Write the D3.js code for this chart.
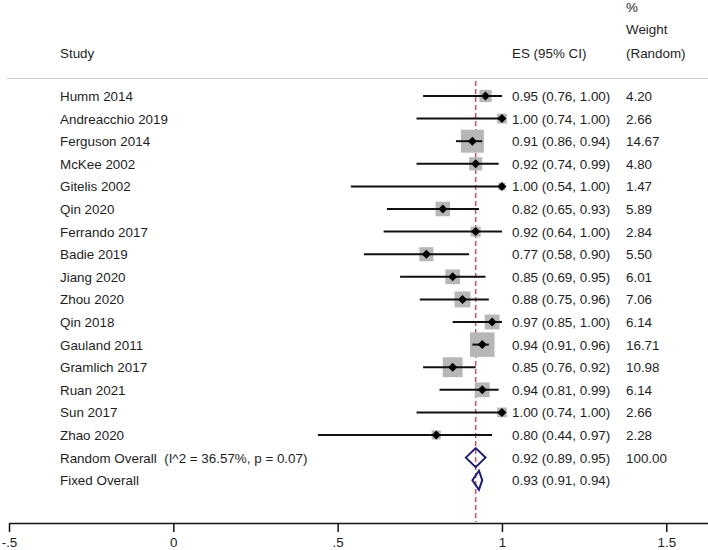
<!DOCTYPE html>
<html>
<head>
<meta charset="utf-8">
<script src="https://cdn.jsdelivr.net/npm/d3@7/dist/d3.min.js"></script>
<style>
  body { margin: 0; background: #fff; }
  text { font-family: "Liberation Sans", Arial, sans-serif; font-size: 13.4px; fill: #1e1e1e; white-space: pre; }
</style>
</head>
<body>
<script>
// study data
var studies = ["Humm 2014", "Andreacchio 2019", "Ferguson 2014", "McKee 2002", "Gitelis 2002",
  "Qin 2020", "Ferrando 2017", "Badie 2019", "Jiang 2020", "Zhou 2020", "Qin 2018",
  "Gauland 2011", "Gramlich 2017", "Ruan 2021", "Sun 2017", "Zhao 2020"];
var es = [0.95, 1.00, 0.91, 0.92, 1.00, 0.82, 0.92, 0.77, 0.85, 0.88, 0.97, 0.94, 0.85, 0.94, 1.00, 0.80];
var lo = [0.76, 0.74, 0.86, 0.74, 0.54, 0.65, 0.64, 0.58, 0.69, 0.75, 0.85, 0.91, 0.76, 0.81, 0.74, 0.44];
var hi = [1.00, 1.00, 0.94, 0.99, 1.00, 0.93, 1.00, 0.90, 0.95, 0.96, 1.00, 0.96, 0.92, 0.99, 1.00, 0.97];
var weights = [4.20, 2.66, 14.67, 4.80, 1.47, 5.89, 2.84, 5.50, 6.01, 7.06, 6.14, 16.71, 10.98, 6.14, 2.66, 2.28];

// pooled estimates
var pooledLabels = ["Random Overall  (I^2 = 36.57%, p = 0.07)", "Fixed Overall"];
var pooledEs = [0.92, 0.93];
var pooledLo = [0.89, 0.91];
var pooledHi = [0.95, 0.94];
var pooledWeight = ["100.00", ""];

var tickValues = [-0.5, 0, 0.5, 1, 1.5];
var tickLabels = ["-.5", "0", ".5", "1", "1.5"];

var width = 708, height = 550;
var svg = d3.select("body").append("svg")
  .attr("width", width)
  .attr("height", height);

var x = d3.scaleLinear().domain([-0.5, 1.63]).range([9, 709]);

var nRows = studies.length + pooledLabels.length;
var y = d3.scaleLinear().domain([0, nRows - 1]).range([96, 96 + 22.6 * (nRows - 1)]);

var fmt = d3.format(".2f");
function ciText(e, l, h) {
  return fmt(e) + " (" + fmt(l) + ", " + fmt(h) + ")";
}

// header
svg.append("text").attr("x", 60).attr("y", 58).text("Study");
svg.append("text").attr("x", 512).attr("y", 58).text("ES (95% CI)");
svg.append("text").attr("x", 626).attr("y", 12).text("%");
svg.append("text").attr("x", 626).attr("y", 34).text("Weight");
svg.append("text").attr("x", 626).attr("y", 58).text("(Random)");

svg.append("line")
  .attr("x1", 7).attr("x2", width)
  .attr("y1", 78.5).attr("y2", 78.5)
  .attr("stroke", "#c8c8c8").attr("stroke-width", 1.2);

// overall effect line
svg.append("line")
  .attr("x1", x(0.92)).attr("x2", x(0.92))
  .attr("y1", 81).attr("y2", 522)
  .attr("stroke", "#bf5560").attr("stroke-width", 1.5)
  .attr("stroke-dasharray", "5,3");

var rows = studies.map(function(s, i) {
  return {name: s, es: es[i], lo: lo[i], hi: hi[i], w: weights[i], i: i};
});

var g = svg.append("g");

// weight boxes
g.selectAll("rect.box")
  .data(rows)
  .enter().append("rect")
  .attr("class", "box")
  .attr("x", function(d) { return x(d.es) - 3 * Math.sqrt(d.w); })
  .attr("y", function(d) { return y(d.i) - 3 * Math.sqrt(d.w); })
  .attr("width", function(d) { return 6 * Math.sqrt(d.w); })
  .attr("height", function(d) { return 6 * Math.sqrt(d.w); })
  .attr("fill", "#b7b7b7");

// confidence intervals
g.selectAll("line.ci")
  .data(rows)
  .enter().append("line")
  .attr("class", "ci")
  .attr("x1", function(d) { return x(d.lo); })
  .attr("x2", function(d) { return x(d.hi); })
  .attr("y1", function(d) { return y(d.i); })
  .attr("y2", function(d) { return y(d.i); })
  .attr("stroke", "#111").attr("stroke-width", 2);

// point estimates
g.selectAll("path.pt")
  .data(rows)
  .enter().append("path")
  .attr("class", "pt")
  .attr("transform", function(d) { return "translate(" + x(d.es) + "," + y(d.i) + ")"; })
  .attr("d", "M-4.5,0L0,-4.5L4.5,0L0,4.5Z")
  .attr("fill", "#000");

g.selectAll("text.name")
  .data(rows)
  .enter().append("text")
  .attr("x", 60)
  .attr("y", function(d) { return y(d.i) + 5; })
  .text(function(d) { return d.name; });

g.selectAll("text.ci")
  .data(rows)
  .enter().append("text")
  .attr("x", 512)
  .attr("y", function(d) { return y(d.i) + 5; })
  .text(function(d) { return ciText(d.es, d.lo, d.hi); });

g.selectAll("text.wt")
  .data(rows)
  .enter().append("text")
  .attr("x", 626)
  .attr("y", function(d) { return y(d.i) + 5; })
  .text(function(d) { return fmt(d.w); });

// pooled rows
var pooled = pooledLabels.map(function(s, j) {
  return {name: s, es: pooledEs[j], lo: pooledLo[j], hi: pooledHi[j], w: pooledWeight[j], i: studies.length + j};
});

g.selectAll("path.diamond")
  .data(pooled)
  .enter().append("path")
  .attr("d", function(d) {
    var cy = y(d.i), h = 9.5;
    return "M" + x(d.lo) + "," + cy + "L" + x(d.es) + "," + (cy - h) +
      "L" + x(d.hi) + "," + cy + "L" + x(d.es) + "," + (cy + h) + "Z";
  })
  .attr("fill", "none")
  .attr("stroke", "#1c1c80").attr("stroke-width", 2);

g.selectAll("text.pname")
  .data(pooled)
  .enter().append("text")
  .attr("x", 60)
  .attr("y", function(d) { return y(d.i) + 5; })
  .text(function(d) { return d.name; });

g.selectAll("text.pci")
  .data(pooled)
  .enter().append("text")
  .attr("x", 512)
  .attr("y", function(d) { return y(d.i) + 5; })
  .text(function(d) { return ciText(d.es, d.lo, d.hi); });

g.selectAll("text.pwt")
  .data(pooled)
  .enter().append("text")
  .attr("x", 626)
  .attr("y", function(d) { return y(d.i) + 5; })
  .text(function(d) { return d.w; });

// x axis
var axis = d3.axisBottom(x)
  .tickValues(tickValues)
  .tickFormat(function(d, i) { return tickLabels[i]; })
  .tickSize(9)
  .tickSizeOuter(0)
  .tickPadding(5);

var ax = svg.append("g")
  .attr("transform", "translate(0,523)")
  .call(axis);

ax.select(".domain").attr("stroke", "#111").attr("stroke-width", 1.5);
ax.selectAll(".tick line").attr("stroke", "#111").attr("stroke-width", 1.5);
ax.selectAll(".tick text")
  .style("font-family", "'Liberation Sans', Arial, sans-serif")
  .style("font-size", "13.4px")
  .attr("fill", "#1e1e1e");
</script>
</body>
</html>
